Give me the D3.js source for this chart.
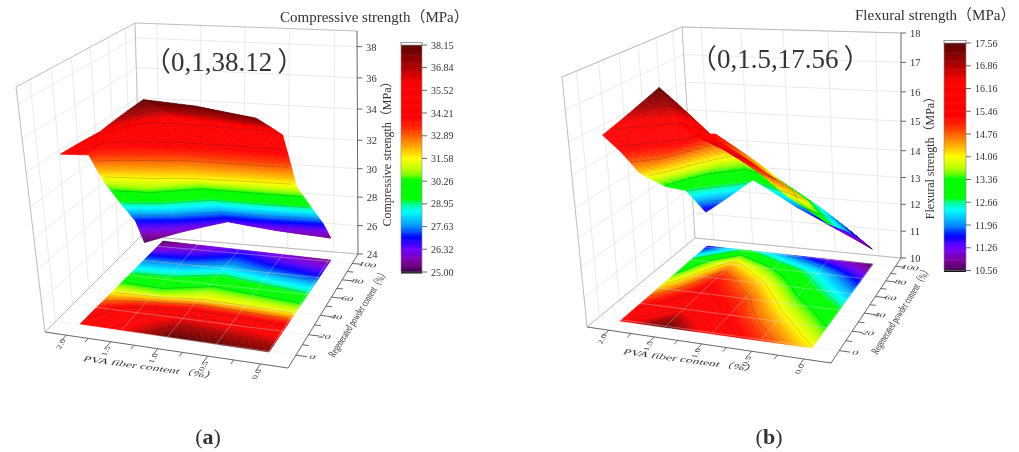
<!DOCTYPE html>
<html>
<head>
<meta charset="utf-8">
<script src="https://cdn.jsdelivr.net/npm/d3@7"></script>
<style>
html, body { margin: 0; padding: 0; background: #fff; }
svg { display: block; filter: blur(0.45px); }
text { font-family: "Liberation Serif", "Noto Sans CJK SC", serif; fill: #333; }
</style>
</head>
<body>
<div id="vis"></div>
<script>
// values
var fiberContent = [2, 1.5, 1, 0.5, 0];
var powderContent = [0, 20, 40, 60, 80, 100];

// one row per powder content, one column per fiber content
var compressiveRows = [
	[34.5, 36.0, 38.12, 38.0, 37.6],
	[33.4, 35.2, 36.0, 35.7, 35.3],
	[31.0, 30.8, 31.6, 31.5, 31.3],
	[28.8, 29.0, 29.8, 29.4, 29.0],
	[27.0, 27.2, 27.8, 27.3, 27.0],
	[25.0, 25.8, 26.5, 25.9, 25.4]
];
var flexuralRows = [
	[16.0, 17.56, 15.95, 15.0, 14.1],
	[15.2, 16.3, 15.3, 14.4, 13.4],
	[14.3, 15.6, 14.9, 13.7, 12.8],
	[13.3, 15.2, 14.2, 13.0, 12.1],
	[12.7, 14.3, 13.3, 12.4, 11.4],
	[11.4, 12.8, 11.9, 11.2, 10.56]
];

var fiberTicks = [2, 1.5, 1, 0.5, 0];
var powderTicks = [0, 20, 40, 60, 80, 100];
var compressiveTicks = [24, 26, 28, 30, 32, 34, 36, 38];
var flexuralTicks = [10, 11, 12, 13, 14, 15, 16, 17, 18];
var compressiveLevels = [25.00, 26.32, 27.63, 28.95, 30.26, 31.58, 32.89, 34.21, 35.52, 36.84, 38.15];
var flexuralLevels = [10.56, 11.26, 11.96, 12.66, 13.36, 14.06, 14.76, 15.46, 16.16, 16.86, 17.56];

// colour map as position on the colour bar
var colorStops = [0, 0.008, 0.046, 0.1, 0.152, 0.2, 0.266, 0.3, 0.32, 0.405, 0.425, 0.456, 0.5, 0.548, 0.6, 0.63, 0.68, 0.83, 0.9, 1];
var colorValues = ["#3a0040", "#500060", "#8000a0", "#7000ff", "#0000ff", "#0090ff", "#00ffff", "#00ff90", "#00ff00", "#00ff00", "#70ff00", "#c0ff00", "#ffff00", "#ffb000", "#ff6000", "#ff3000", "#ff0000", "#ff0000", "#b00000", "#5a0000"];

var width = 1019;
var height = 452;

var svg = d3.select("#vis").append("svg")
	.attr("width", width)
	.attr("height", height);

//maps the unit square on to four screen corners [u0v0, u1v0, u1v1, u0v1]
function quadMap(c){
	var x0 = c[0][0], y0 = c[0][1], x1 = c[1][0], y1 = c[1][1];
	var x2 = c[2][0], y2 = c[2][1], x3 = c[3][0], y3 = c[3][1];
	var dx1 = x1 - x2, dx2 = x3 - x2, sx = x0 - x1 + x2 - x3;
	var dy1 = y1 - y2, dy2 = y3 - y2, sy = y0 - y1 + y2 - y3;
	var den = dx1 * dy2 - dx2 * dy1;
	var g = (sx * dy2 - dx2 * sy) / den;
	var h = (dx1 * sy - sx * dy1) / den;
	var a = x1 - x0 + g * x1, b = x3 - x0 + h * x3;
	var d = y1 - y0 + g * y1, e = y3 - y0 + h * y3;
	return function(u, v){
		var w = g * u + h * v + 1;
		return [(a * u + b * v + x0) / w, (d * u + e * v + y0) / w];
	};
}

function lerp(p, q, t){
	return [p[0] + (q[0] - p[0]) * t, p[1] + (q[1] - p[1]) * t];
}

function line(pts){
	return "M" + pts.map(function(p){ return p[0].toFixed(2) + "," + p[1].toFixed(2); }).join("L");
}

function drawPanel(opt){
	var g = svg.append("g");
	var rows = opt.rows;
	var levels = opt.levels;

	var color = d3.scaleLinear().domain(colorStops).range(colorValues);
	var frac = d3.scaleLinear().domain([levels[0], levels[levels.length - 1]]).range([0, 1]).clamp(true);

	var floorMap = quadMap(opt.floor);
	var topMap = quadMap(opt.top);
	var footMap = quadMap(opt.footprint);
	var baseMap = quadMap(opt.surfaceBase);
	var surfTopMap = quadMap(opt.surfaceTop);

	var xU = d3.scaleLinear().domain(opt.xDomain).range([0, 1]);
	var yV = d3.scaleLinear().domain(opt.yDomain).range([0, 1]);
	var zT = d3.scaleLinear().domain(opt.zDomain).range(opt.zRange);
	var rowV = d3.scaleLinear().domain(d3.range(powderContent.length)).range(opt.surfaceRows);

	//box position for a data point
	function box(x, y, z){
		return lerp(floorMap(xU(x), yV(y)), topMap(xU(x), yV(y)), zT(z));
	}
	//surface position, from fractional column and row indexes
	function surf(ci, ri, z){
		var u = ci / (fiberContent.length - 1), v = rowV(ri);
		return lerp(baseMap(u, v), surfTopMap(u, v), zT(z));
	}
	function floorAt(ci, ri){
		return footMap(ci / (fiberContent.length - 1), ri / (powderContent.length - 1));
	}
	function valueAt(ci, ri){
		var c = Math.min(Math.floor(ci), fiberContent.length - 2), r = Math.min(Math.floor(ri), powderContent.length - 2);
		var a = ci - c, b = ri - r;
		return (rows[r][c] * (1 - a) + rows[r][c + 1] * a) * (1 - b) + (rows[r + 1][c] * (1 - a) + rows[r + 1][c + 1] * a) * b;
	}

	var zMin = opt.zDomain[0], zMax = opt.zDomain[opt.zDomain.length - 1];
	var xA = opt.xDomain[0], xB = opt.xDomain[1], yA = opt.yDomain[0], yB = opt.yDomain[1];

	//walls
	var grid = g.append("g").attr("fill", "none").attr("stroke", "#e4e4e4").attr("stroke-width", 0.8);
	opt.zTicks.forEach(function(z){
		grid.append("path").attr("d", line([box(xA, yA, z), box(xA, yB, z), box(xB, yB, z)]));
	});
	powderTicks.forEach(function(y){
		grid.append("path").attr("d", line([box(xA, y, zMin), box(xA, y, zMax)]));
	});
	fiberTicks.forEach(function(x){
		grid.append("path").attr("d", line([box(x, yB, zMin), box(x, yB, zMax)]));
	});

	var frame = g.append("g").attr("fill", "none").attr("stroke", "#b4b4b4").attr("stroke-width", 0.9);
	frame.append("path").attr("d", line([box(xA, yA, zMin), box(xA, yA, zMax), box(xA, yB, zMax), box(xB, yB, zMax)]));
	frame.append("path").attr("d", line([box(xA, yB, zMax), box(xA, yB, zMin), box(xB, yB, zMin)]));
	frame.append("path").attr("d", line([box(xA, yA, zMin), box(xA, yB, zMin)]));

	//fine grid for the fills and contour lines
	var subC = 14, subR = 24;
	var nx = (fiberContent.length - 1) * subC + 1;
	var ny = (powderContent.length - 1) * subR + 1;
	var values = [];
	for (var j = 0; j < ny; j++) {
		for (var i = 0; i < nx; i++) {
			values.push(valueAt(i / subC, j / subR));
		}
	}
	var contours = d3.contours().size([nx, ny]).thresholds(levels.slice(1, -1))(values);

	function contourPaths(project){
		var d = "";
		contours.forEach(function(c){
			c.coordinates.forEach(function(poly){
				poly.forEach(function(ring){
					for (var k = 1; k < ring.length; k++) {
						var p = ring[k - 1], q = ring[k];
						var inside = [p, q].every(function(m){
							return m[0] > 0.6 && m[0] < nx - 0.6 && m[1] > 0.6 && m[1] < ny - 0.6;
						});
						if (inside) {
							d += line([project((p[0] - 0.5) / subC, (p[1] - 0.5) / subR, c.value), project((q[0] - 0.5) / subC, (q[1] - 0.5) / subR, c.value)]);
						}
					}
				});
			});
		});
		return d;
	}

	function fillCells(layer, project){
		for (var j = ny - 2; j >= 0; j--) {
			for (var i = 0; i < nx - 1; i++) {
				var c0 = i / subC, c1 = (i + 1) / subC, r0 = j / subR, r1 = (j + 1) / subR;
				var col = color(frac(valueAt((c0 + c1) / 2, (r0 + r1) / 2)));
				layer.append("path")
					.attr("d", line([project(c0, r0), project(c1, r0), project(c1, r1), project(c0, r1)]) + "Z")
					.attr("fill", col)
					.attr("stroke", col)
					.attr("stroke-width", 0.5);
			}
		}
	}

	//projection on the floor
	var floorLayer = g.append("g");
	fillCells(floorLayer, floorAt);
	g.append("path").attr("d", contourPaths(function(c, r){ return floorAt(c, r); }))
		.attr("fill", "none").attr("stroke", "#222").attr("stroke-opacity", 0.42).attr("stroke-width", 0.5);

	var floorGrid = g.append("g").attr("fill", "none").attr("stroke", "#e0e0e0").attr("stroke-width", 0.7).attr("stroke-opacity", 0.5);
	fiberTicks.forEach(function(x){
		floorGrid.append("path").attr("d", line([box(x, yA, zMin), box(x, yB, zMin)]));
	});
	powderTicks.forEach(function(y){
		floorGrid.append("path").attr("d", line([box(xA, y, zMin), box(xB, y, zMin)]));
	});

	//surface
	var surfLayer = g.append("g");
	fillCells(surfLayer, function(c, r){ return surf(c, r, valueAt(c, r)); });
	g.append("path").attr("d", contourPaths(function(c, r, z){ return surf(c, r, z); }))
		.attr("fill", "none").attr("stroke", "#222").attr("stroke-opacity", 0.42).attr("stroke-width", 0.5);

	//axes on the floor edges
	var axis = g.append("g").attr("fill", "none").attr("stroke", "#555").attr("stroke-width", 0.9);
	axis.append("path").attr("d", line([box(xA, yA, zMin), box(xB, yA, zMin), box(xB, yB, zMin), box(xB, yB, zMax)]));

	fiberTicks.forEach(function(x, i){
		axis.append("path").attr("d", line([box(x, yA, zMin), box(x, yA - 7, zMin)]));
		if (i < fiberTicks.length - 1) {
			var mid = (x + fiberTicks[i + 1]) / 2;
			axis.append("path").attr("d", line([box(mid, yA, zMin), box(mid, yA - 4, zMin)]));
		}
		var p = box(x, yA - 9, zMin);
		g.append("text").attr("class", "tick")
			.attr("transform", "translate(" + (p[0] + 5) + "," + (p[1] + 1) + ") matrix(0.55,-0.95,0.9,0.18,0,0)")
			.attr("text-anchor", "middle").attr("font-size", 8).attr("fill", "#666")
			.text(d3.format(".1f")(x));
	});

	powderTicks.forEach(function(y, i){
		axis.append("path").attr("d", line([box(xB, y, zMin), box(xB - 0.1, y, zMin)]));
		if (i < powderTicks.length - 1) {
			var mid = (y + powderTicks[i + 1]) / 2;
			axis.append("path").attr("d", line([box(xB, mid, zMin), box(xB - 0.06, mid, zMin)]));
		}
		var p = box(xB - 0.12, y, zMin);
		g.append("text").attr("class", "tick")
			.attr("transform", "translate(" + (p[0] + 2) + "," + (p[1] + 2) + ") matrix(1.45,0.2,-0.5,0.7,0,0)")
			.attr("text-anchor", "middle").attr("font-size", 8).attr("fill", "#666")
			.text(y);
	});

	opt.zTicks.forEach(function(z){
		var p = box(xB, yB, z);
		axis.append("path").attr("d", line([p, [p[0] + 5, p[1]]]));
		g.append("text").attr("x", p[0] + 9).attr("y", p[1] + 4)
			.attr("font-size", 10.5).attr("fill", "#444").text(z);
	});

	//axis titles
	g.append("text")
		.attr("transform", opt.xTitle)
		.attr("font-size", 10).attr("fill", "#444")
		.text("PVA fiber content（%）");
	g.append("text")
		.attr("transform", opt.yTitle)
		.attr("font-size", 10).attr("fill", "#444")
		.text("Regenerated powder content（%）");
	g.append("text")
		.attr("transform", opt.zTitle)
		.attr("text-anchor", "middle").attr("font-size", 12).attr("fill", "#444")
		.text(opt.name + "（MPa）");
	g.append("text")
		.attr("x", opt.title[0]).attr("y", opt.title[1])
		.attr("font-size", 15).attr("fill", "#444")
		.text(opt.name + "（MPa）");

	var note = g.append("text")
		.attr("x", opt.note[0]).attr("y", opt.note[1])
		.attr("font-size", 27).attr("fill", "#222");
	note.append("tspan").text("（" + opt.noteText);
	note.append("tspan").attr("dx", 5).text("）");

	//colour bar
	var barY = d3.scaleLinear().domain([levels[0], levels[levels.length - 1]]).range(opt.barRange);
	var barX = opt.barX;
	var bar = g.append("g");
	d3.range(0, 1, 0.005).forEach(function(f){
		var v = levels[0] + f * (levels[levels.length - 1] - levels[0]);
		var v2 = levels[0] + (f + 0.005) * (levels[levels.length - 1] - levels[0]);
		bar.append("rect")
			.attr("x", barX[0]).attr("width", barX[1] - barX[0])
			.attr("y", barY(v2)).attr("height", barY(v) - barY(v2) + 0.6)
			.attr("fill", color(f));
	});
	bar.append("rect")
		.attr("x", barX[0]).attr("width", barX[1] - barX[0])
		.attr("y", opt.barRange[0] - 0.5).attr("height", 2)
		.attr("fill", "#111");
	bar.append("rect")
		.attr("x", barX[0]).attr("width", barX[1] - barX[0])
		.attr("y", opt.barRange[1] - 2.5).attr("height", 2.5)
		.attr("fill", "#fff").attr("stroke", "#999").attr("stroke-width", 0.7);
	bar.append("rect")
		.attr("x", barX[0]).attr("width", barX[1] - barX[0])
		.attr("y", opt.barRange[1] - 2.5).attr("height", opt.barRange[0] - opt.barRange[1] + 2.5)
		.attr("fill", "none").attr("stroke", "#888").attr("stroke-width", 0.6);
	levels.forEach(function(v){
		bar.append("line")
			.attr("x1", barX[1]).attr("x2", barX[1] + 5)
			.attr("y1", barY(v)).attr("y2", barY(v))
			.attr("stroke", "#555").attr("stroke-width", 0.9);
		bar.append("text")
			.attr("x", barX[1] + 9).attr("y", barY(v) + 3.5)
			.attr("font-size", 10).attr("fill", "#555")
			.text(d3.format(".2f")(v));
	});

	//sub figure caption
	var cap = g.append("text")
		.attr("x", opt.caption[0]).attr("y", opt.caption[1])
		.attr("text-anchor", "middle").attr("font-size", 22).attr("fill", "#111");
	cap.append("tspan").text("(");
	cap.append("tspan").attr("font-weight", "bold").text(opt.captionText);
	cap.append("tspan").text(")");
}

drawPanel({
	name: "Compressive strength",
	rows: compressiveRows,
	levels: compressiveLevels,
	zTicks: compressiveTicks,
	floor: [[45, 332], [288, 368], [358, 254], [141, 236]],
	top: [[16, 87], [281, 98], [357, 31], [135, 23]],
	footprint: [[80, 324], [269, 352], [331, 260], [163, 241]],
	surfaceBase: [[74, 322], [263, 339], [331, 258], [145, 257]],
	surfaceTop: [[54, 77], [255, 94], [330, 36], [137, 32]],
	surfaceRows: [0, 0.32, 0.5, 0.7, 0.88, 1],
	xDomain: [2.25, -0.25],
	yDomain: [-12, 112],
	zDomain: [24, 32, 39],
	zRange: [0, 0.51, 1],
	xTitle: "translate(82,361) matrix(1.35,0.18,-0.5,0.75,0,0)",
	yTitle: "translate(334,358) matrix(0.38,-0.6,0.95,0.55,0,0)",
	zTitle: "translate(391,151) rotate(-90)",
	title: [280, 22],
	note: [144, 71],
	noteText: "0,1,38.12",
	barX: [401, 422],
	barRange: [272, 45],
	caption: [208, 444],
	captionText: "a"
});

drawPanel({
	name: "Flexural strength",
	rows: flexuralRows,
	levels: flexuralLevels,
	zTicks: flexuralTicks,
	floor: [[587, 327], [831, 363], [901, 258], [695, 238]],
	top: [[562, 77], [824, 96], [901, 33], [682, 27]],
	footprint: [[620, 321], [812, 348], [873, 264], [707, 246]],
	surfaceBase: [[621, 316], [811, 319], [873, 264], [707, 249]],
	surfaceTop: [[596, 71], [805, 79], [867, 44], [700, 29]],
	surfaceRows: [0, 0.15, 0.3, 0.56, 0.78, 1],
	xDomain: [2.25, -0.25],
	yDomain: [-12, 112],
	zDomain: [10, 14, 18],
	zRange: [0, 0.477, 1],
	xTitle: "translate(622,354) matrix(1.35,0.18,-0.5,0.75,0,0)",
	yTitle: "translate(877,355) matrix(0.38,-0.6,0.95,0.55,0,0)",
	zTitle: "translate(934,155) rotate(-90)",
	title: [855, 20],
	note: [690, 68],
	noteText: "0,1.5,17.56",
	barX: [944, 966],
	barRange: [270.5, 43],
	caption: [769, 444],
	captionText: "b"
});
</script>
</body>
</html>
